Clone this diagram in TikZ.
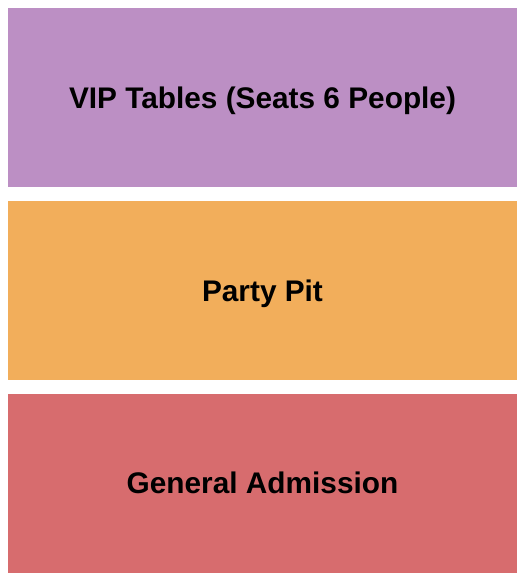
\documentclass[tikz,border=0pt]{standalone}
\usepackage{fontspec}
\setmainfont{Liberation Sans}
\usetikzlibrary{positioning}

\definecolor{vipcol}{RGB}{188,143,196}
\definecolor{pitcol}{RGB}{242,174,91}
\definecolor{gacol}{RGB}{215,108,110}

\begin{document}
\begin{tikzpicture}[node distance=14bp,
  section/.style={rectangle, inner sep=0pt, minimum width=509bp, minimum height=179bp,
    text height=21.3bp, text depth=0pt,
    font=\fontsize{29.8bp}{34bp}\selectfont\bfseries, text=black}]
  \useasboundingbox (0,0) rectangle (525bp,-580bp);
  \node[section, fill=vipcol] (vip) at (262.5bp,-97.5bp) {VIP Tables (Seats 6 People)};
  \node[section, fill=pitcol] (pit) [below=of vip] {Party Pit};
  \node[section, fill=gacol] (ga) [below=13bp of pit] {General Admission};
\end{tikzpicture}
\end{document}
